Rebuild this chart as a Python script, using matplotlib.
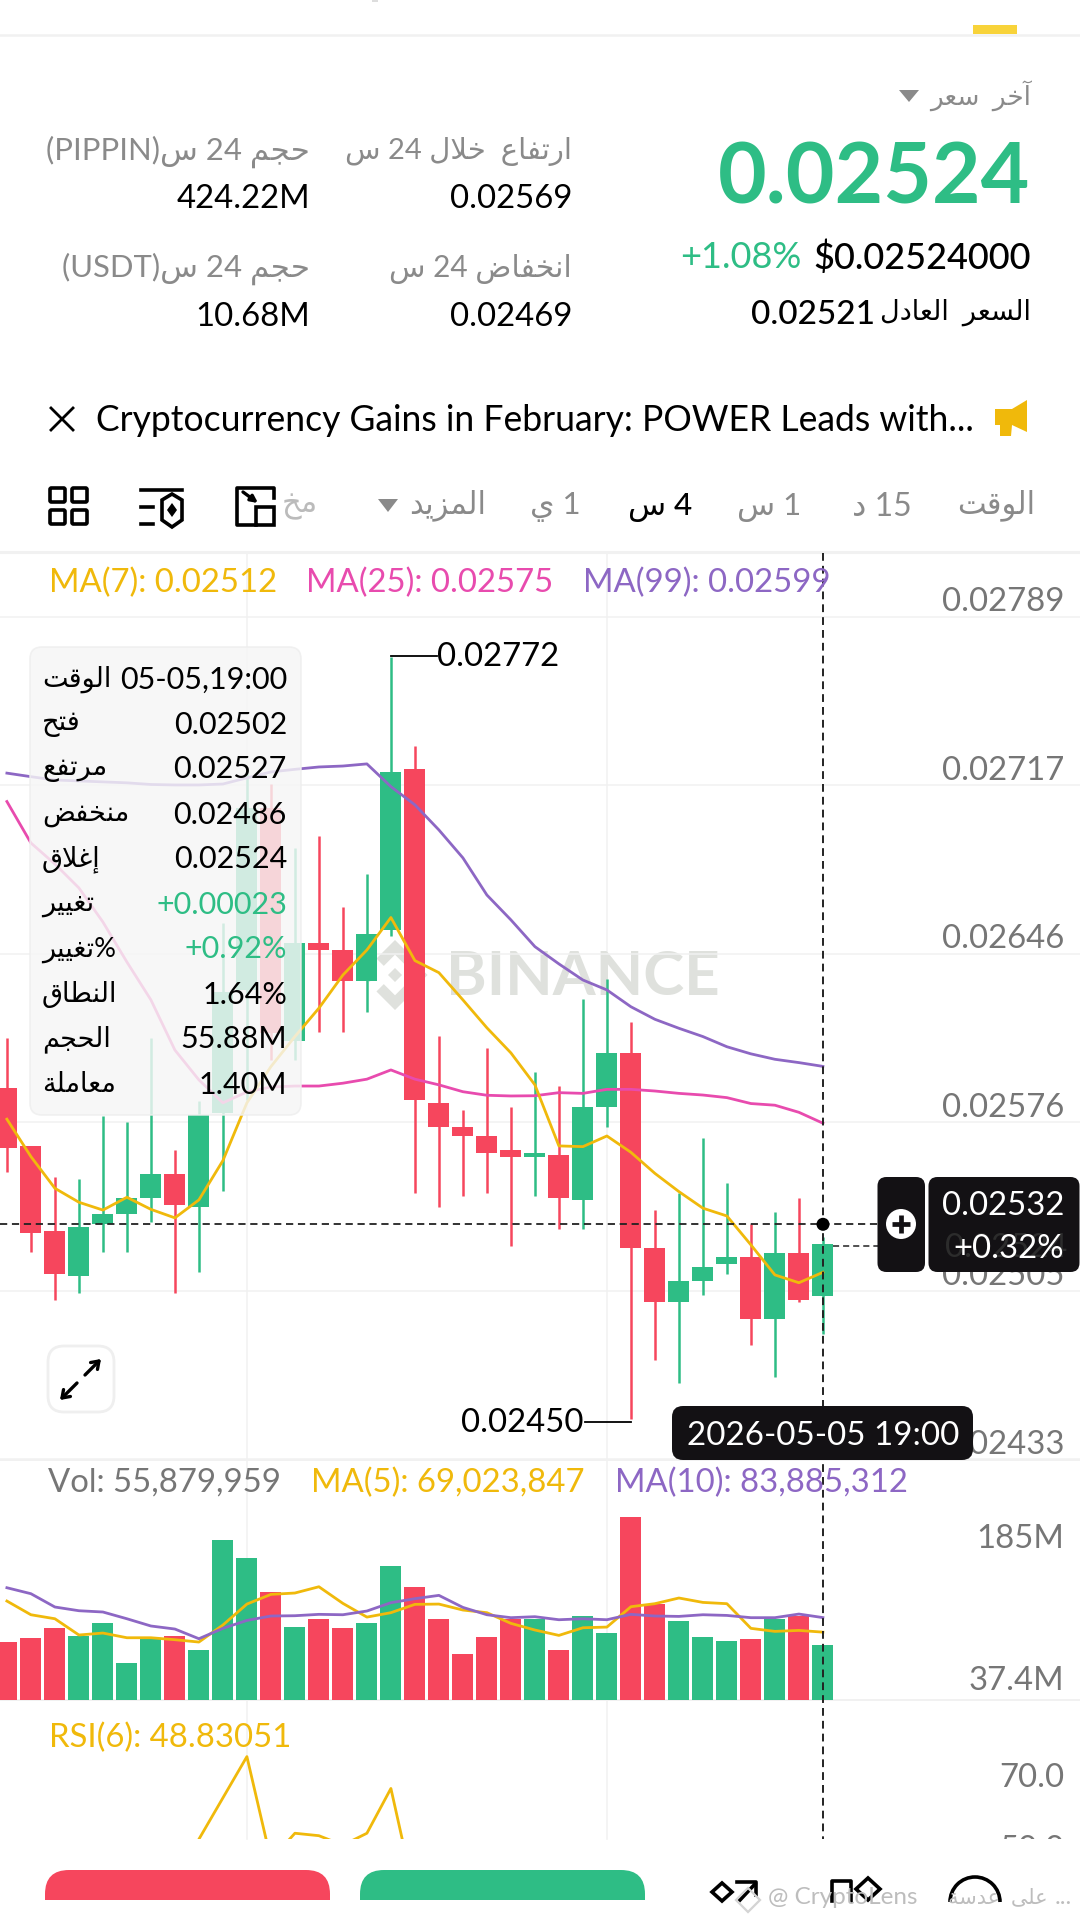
import re
import numpy as np
import matplotlib
matplotlib.use('Agg')
import matplotlib.pyplot as plt
from matplotlib.patches import FancyBboxPatch, Polygon, Rectangle, Circle, Arc

plt.rcParams['font.family'] = ['Lato', 'DejaVu Sans']

W, H = 1080, 1922
GREEN, RED = '#2EBD85', '#F6465D'
YELLOW, PINK, PURPLE = '#F0B90B', '#E84BAE', '#8D67C4'
GRID = '#F1F1F1'
AXTXT = '#767676'
GREYTXT = '#8A8A8A'
DARK = '#131114'
FS = 23.7

# candles, in units of 1e-5
opens = [2589.8, 2565.5, 2529.5, 2510.3, 2532.4, 2536.5, 2543.5, 2553.5, 2539.6, 2579.3, 2631.3, 2708.3,
         2609.9, 2651.2, 2648.2, 2635.1, 2656.6, 2724.6, 2583.7, 2573.5, 2569.6, 2563.7, 2560.7, 2561.6,
         2542.6, 2581.7, 2604.8, 2522.4, 2499.4, 2508.3, 2515.4, 2518.4, 2492.3, 2520.3, 2502.0]
closes = [2564.7, 2528.6, 2511.4, 2531.3, 2536.5, 2543.4, 2553.5, 2540.4, 2578.5, 2630.6, 2708.3, 2613.1,
          2651.0, 2648.2, 2635.1, 2655.0, 2723.5, 2584.8, 2573.5, 2569.6, 2562.5, 2560.7, 2562.5, 2543.5,
          2581.9, 2604.8, 2522.4, 2499.4, 2508.3, 2514.4, 2518.4, 2492.3, 2520.3, 2500.3, 2524.0]
highs = [2611.0, 2565.5, 2552.4, 2551.4, 2578.0, 2575.5, 2611.0, 2563.7, 2584.5, 2659.6, 2723.0, 2718.3,
         2691.3, 2696.4, 2666.4, 2680.3, 2772.0, 2734.5, 2611.9, 2580.6, 2606.8, 2581.9, 2596.8, 2590.7,
         2627.5, 2635.9, 2617.8, 2538.3, 2545.5, 2568.8, 2549.7, 2532.4, 2537.5, 2543.4, 2527.0]
lows = [2554.5, 2520.6, 2500.3, 2503.4, 2520.6, 2520.6, 2533.4, 2503.4, 2512.3, 2546.5, 2584.8, 2601.7,
        2601.7, 2613.7, 2613.7, 2622.0, 2654.1, 2545.5, 2539.6, 2544.4, 2545.5, 2523.3, 2544.4, 2530.3,
        2530.3, 2573.5, 2450.0, 2474.9, 2465.2, 2502.4, 2511.3, 2481.3, 2467.9, 2499.5, 2486.0]
ma7 = [2576.7, 2560.9, 2547.5, 2541.6, 2538.3, 2543.7, 2538.6, 2535.0, 2542.6, 2559.2, 2583.6, 2598.9,
       2611.6, 2623.6, 2637.6, 2648.2, 2661.9, 2643.7, 2638.6, 2627.1, 2615.3, 2604.7, 2591.2, 2565.4,
       2565.1, 2569.6, 2562.7, 2553.8, 2546.1, 2539.1, 2535.8, 2523.6, 2510.9, 2507.6, 2512.0]
ma25 = [2710.9, 2693.4, 2684.5, 2674.4, 2660.0, 2643.1, 2627.1, 2605.9, 2593.3, 2583.6, 2588.2, 2590.3,
        2590.7, 2590.7, 2591.9, 2593.6, 2597.5, 2593.6, 2591.2, 2588.3, 2586.8, 2586.5, 2586.6, 2587.9,
        2587.6, 2589.3, 2589.3, 2588.6, 2587.6, 2586.9, 2585.8, 2583.3, 2582.6, 2579.6, 2575.0]
ma99 = [2722.9, 2721.4, 2720.0, 2719.6, 2719.2, 2718.8, 2718.1, 2717.9, 2717.9, 2718.3, 2720.9, 2723.4,
        2724.5, 2725.5, 2725.9, 2726.8, 2717.2, 2709.5, 2698.9, 2687.1, 2671.4, 2660.9, 2649.6, 2642.3,
        2635.5, 2631.3, 2624.2, 2618.9, 2615.1, 2611.6, 2607.3, 2604.3, 2602.0, 2600.6, 2599.0]
price_ticks = [2789.0, 2717.8, 2646.6, 2575.4, 2504.2, 2433.0]
price_labels = ['0.02789', '0.02717', '0.02646', '0.02576', '0.02505', '0.02433']

# volume, millions
volume = [58.9, 62.7, 73.2, 65.0, 78.7, 37.5, 62.0, 65.0, 51.1, 163.4, 144.7, 110.3, 74.2, 82.7, 73.5, 78.7,
          136.9, 115.1, 82.7, 46.6, 63.7, 82.7, 82.7, 50.7, 85.1, 67.8, 186.9, 97.7, 80.0, 64.0, 59.6, 62.0,
          82.7, 85.8, 55.88]
vol_ma5 = [100.8, 86.8, 82.7, 66.1, 68.1, 63.3, 63.3, 61.3, 58.9, 76.3, 97.7, 107.6, 109.0, 115.4, 98.4, 84.4,
           88.9, 97.4, 97.7, 91.6, 88.9, 78.0, 71.2, 65.7, 73.5, 74.2, 95.0, 98.1, 103.9, 99.4, 98.1, 72.9,
           69.8, 70.8, 69.02]
vol_ma10 = [114.4, 108.3, 94.7, 90.9, 89.6, 82.7, 75.3, 72.2, 62.3, 72.9, 81.0, 85.5, 85.8, 87.2, 86.8, 90.6,
            99.1, 103.2, 106.6, 94.3, 86.8, 83.8, 84.8, 81.7, 82.7, 81.7, 87.2, 85.5, 85.1, 86.8, 86.1, 83.8,
            83.8, 87.5, 83.89]

# only the tops of this one show, the rest is estimated below the panel edge
rsi6 = [40.0, 38.0, 36.0, 42.0, 44.0, 45.0, 47.0, 44.0, 56.8, 68.6, 80.4, 50.9, 58.5, 57.8, 55.1, 58.5, 71.3,
        40.6, 38.0, 36.0, 34.0, 33.0, 34.0, 32.0, 42.0, 45.0, 25.0, 24.0, 30.0, 32.0, 34.0, 32.0, 40.0, 38.0,
        48.83]

n = len(opens)
x = np.arange(n)
opens, closes, highs, lows = [np.array(a) / 1e5 for a in (opens, closes, highs, lows)]
up = closes >= opens
colors = [GREEN if u else RED for u in up]

# Arabic has to be shaped by hand, matplotlib does not do it
FORMS = {'ا': (0xFE8D, 0xFE8E), 'آ': (0xFE81, 0xFE82), 'إ': (0xFE87, 0xFE88), 'ب': (0xFE8F, 0xFE90, 0xFE91, 0xFE92),
         'ة': (0xFE93, 0xFE94), 'ت': (0xFE95, 0xFE96, 0xFE97, 0xFE98), 'ج': (0xFE9D, 0xFE9E, 0xFE9F, 0xFEA0),
         'ح': (0xFEA1, 0xFEA2, 0xFEA3, 0xFEA4), 'خ': (0xFEA5, 0xFEA6, 0xFEA7, 0xFEA8), 'د': (0xFEA9, 0xFEAA),
         'ر': (0xFEAD, 0xFEAE), 'ز': (0xFEAF, 0xFEB0), 'س': (0xFEB1, 0xFEB2, 0xFEB3, 0xFEB4),
         'ض': (0xFEBD, 0xFEBE, 0xFEBF, 0xFEC0), 'ط': (0xFEC1, 0xFEC2, 0xFEC3, 0xFEC4),
         'ع': (0xFEC9, 0xFECA, 0xFECB, 0xFECC), 'غ': (0xFECD, 0xFECE, 0xFECF, 0xFED0),
         'ف': (0xFED1, 0xFED2, 0xFED3, 0xFED4), 'ق': (0xFED5, 0xFED6, 0xFED7, 0xFED8),
         'ل': (0xFEDD, 0xFEDE, 0xFEDF, 0xFEE0), 'م': (0xFEE1, 0xFEE2, 0xFEE3, 0xFEE4),
         'ن': (0xFEE5, 0xFEE6, 0xFEE7, 0xFEE8), 'و': (0xFEED, 0xFEEE), 'ى': (0xFEEF, 0xFEF0),
         'ي': (0xFEF1, 0xFEF2, 0xFEF3, 0xFEF4)}
LAM_ALEF = {'ا': (0xFEFB, 0xFEFC), 'آ': (0xFEF5, 0xFEF6), 'إ': (0xFEF9, 0xFEFA)}


def shape(word):
    out = []
    i = 0
    while i < len(word):
        c = word[i]
        prev_joins = i > 0 and len(FORMS[word[i - 1]]) == 4
        if c == 'ل' and i + 1 < len(word) and word[i + 1] in LAM_ALEF:
            out.append(chr(LAM_ALEF[word[i + 1]][1 if prev_joins else 0]))
            i += 2
            continue
        f = FORMS[c]
        next_joins = i + 1 < len(word)
        if len(f) == 4:
            k = (2 if not prev_joins else 3) if next_joins else (1 if prev_joins else 0)
        else:
            k = 1 if prev_joins else 0
        out.append(chr(f[k]))
        i += 1
    return ''.join(reversed(out))


def ar(s):
    parts = re.findall(r'[\u0600-\u06FF]+|[^\u0600-\u06FF]+', s)
    vis = []
    for p in reversed(parts):
        if re.match(r'[\u0600-\u06FF]', p):
            vis.append(shape(p))
        else:
            lead = len(p) - len(p.lstrip())
            trail = len(p) - len(p.rstrip())
            vis.append(' ' * trail + p.strip() + ' ' * lead)
    return ''.join(vis)


fig = plt.figure(figsize=(W / 100, H / 100), dpi=100, facecolor='white')


def panel(top, bottom, z):
    a = fig.add_axes([0, 1 - bottom / H, 1, (bottom - top) / H], zorder=z)
    a.patch.set_alpha(0)
    a.set_xlim(-6.9 / 24.0, (W - 6.9) / 24.0)
    a.axis('off')
    return a


back = fig.add_axes([0, 0, 1, 1], zorder=0)
back.set_xlim(0, W)
back.set_ylim(H, 0)
back.axis('off')

ui = fig.add_axes([0, 0, 1, 1], zorder=6)
ui.patch.set_alpha(0)
ui.set_xlim(0, W)
ui.set_ylim(H, 0)
ui.axis('off')

# grid + watermark
for gx in (246.9, 606.8):
    back.plot([gx, gx], [553, 1839], color=GRID, lw=1.1)
for gy, lw in ((35, 1.8), (552, 2.2), (1460, 1.4), (1699.7, 1.4)):
    back.plot([0, W], [gy, gy], color=GRID, lw=lw)
WM = '#DFE1DD'
cx, cy, R = 395, 975, 35
chev = np.array([(0, -1), (.53, -.47), (.32, -.26), (0, -.58), (-.32, -.26), (-.53, -.47)])
back.add_patch(Polygon(chev * R + (cx, cy), color=WM, lw=0))
back.add_patch(Polygon(chev * (1, -1) * R + (cx, cy), color=WM, lw=0))
dia = np.array([(0, -.2), (.2, 0), (0, .2), (-.2, 0)])
for off in ((0, 0), (-.73, 0), (.73, 0)):
    back.add_patch(Polygon((dia + off) * R + (cx, cy), color=WM, lw=0))
back.text(583, 977, 'BINANCE', color=WM, fontsize=44.5, fontweight='bold', ha='center', va='center')

# price panel
ax = panel(553, 1459.3, 1)
ax.set_ylim(0.02433, 0.028159)
for t in price_ticks:
    ax.axhline(t / 1e5, color=GRID, lw=1.1, zorder=0)
ax.vlines(x, lows, highs, colors=colors, lw=1.8, zorder=2)
ax.bar(x, np.abs(closes - opens), bottom=np.minimum(opens, closes), width=0.875, color=colors, lw=0, zorder=3)
ax.plot(x, np.array(ma25) / 1e5, color=PINK, lw=2.0, zorder=4)
ax.plot(x, np.array(ma99) / 1e5, color=PURPLE, lw=2.0, zorder=4)
ax.plot(x, np.array(ma7) / 1e5, color=YELLOW, lw=2.0, zorder=5)
for t, lab in zip(price_ticks, price_labels):
    ax.annotate(lab, xy=(1, t / 1e5), xycoords=('axes fraction', 'data'), xytext=(-11.5, 10.5), textcoords='offset points',
                ha='right', va='center', color=AXTXT, fontsize=FS, annotation_clip=False)

# volume panel
av = panel(1460, 1699.7, 2)
av.set_ylim(0, 244.9)
av.bar(x, volume, width=0.875, color=colors, lw=0, zorder=2)
av.plot(x, vol_ma5, color=YELLOW, lw=2.0, zorder=3)
av.plot(x, vol_ma10, color=PURPLE, lw=2.0, zorder=4)

# rsi panel, cut by the bottom bar
rsi_ax = panel(1700, 1839.3, 3)
rsi_ax.set_ylim(56.77, 96.57)
rsi_ax.plot(x, rsi6, color=YELLOW, lw=2.0)
for val, lab in ((74.4, '70.0'), (53.8, '50.0')):
    rsi_ax.text(1064 / W, val, lab, transform=rsi_ax.get_yaxis_transform(), fontsize=FS, color=AXTXT,
                ha='right', va='center', clip_on=True)


def txt(px, py, s, size=FS, color='black', ha='left', **kw):
    return ui.text(px, py + 2.5, s, fontsize=size, color=color, ha=ha, va='center', **kw)


# header
ui.add_patch(Rectangle((972.5, 25), 44.5, 9, color='#F8D33A', lw=0))
ui.add_patch(Rectangle((372, 0), 6, 2, color='#DDDDDD', lw=0))
txt(1031, 93, ar('آخر سعر'), 19, GREYTXT, 'right')
ui.add_patch(Polygon([(899, 90), (919, 90), (909, 102)], color=GREYTXT, lw=0))
txt(1030, 177, '0.02524', 60.5, GREEN, 'right', fontweight='bold')
txt(680, 255, '+1.08%', 26, GREEN)
txt(1031, 255, '$0.02524000', 26, 'black', 'right', fontweight='medium')
txt(875, 312, '0.02521', 24, 'black', 'right', fontweight='medium')
txt(1031, 310, ar('السعر العادل'), 19.5, 'black', 'right')
txt(310, 149, ar('حجم 24 س(PIPPIN)'), 22.3, GREYTXT, 'right')
txt(310, 197, '424.22M', FS, 'black', 'right')
txt(310, 266, ar('حجم 24 س(USDT)'), 22.3, GREYTXT, 'right')
txt(310, 314, '10.68M', FS, 'black', 'right')
txt(572, 149, ar('ارتفاع خلال 24 س'), 21, GREYTXT, 'right')
txt(572, 197, '0.02569', FS, 'black', 'right')
txt(572, 266, ar('انخفاض 24 س'), 21.5, GREYTXT, 'right')
txt(572, 314, '0.02469', FS, 'black', 'right')

# news strip
ui.plot([51, 73], [408, 430], color='black', lw=2)
ui.plot([51, 73], [430, 408], color='black', lw=2)
txt(96, 418, 'Cryptocurrency Gains in February: POWER Leads with...', 25.6)
ui.add_patch(Polygon([(995, 409), (1012, 409), (1027, 400), (1027, 432), (1012, 425), (1011, 436), (1000, 436), (1000, 425), (995, 425)],
                     color=YELLOW, lw=0))

# interval tabs
txt(1035, 503, ar('الوقت'), 22, GREYTXT, 'right')
txt(912, 505, ar('15 د'), 23, GREYTXT, 'right')
txt(801, 505, ar('1 س'), 22.5, GREYTXT, 'right')
txt(692, 505, ar('4 س'), 22.5, 'black', 'right', fontweight='medium')
txt(581, 505, ar('1 ي'), 22.5, GREYTXT, 'right')
txt(486, 503, ar('المزيد'), 22, GREYTXT, 'right')
ui.add_patch(Polygon([(378, 499), (398, 499), (388, 512)], color=GREYTXT, lw=0))
txt(318, 503, ar('مخ'), 22, '#BBBBBB', 'right')
# tool icons
for bx, by in ((50, 488), (72, 488), (50, 510), (72, 510)):
    ui.add_patch(FancyBboxPatch((bx, by), 15, 14, boxstyle='round,pad=0,rounding_size=1.5', fc='none', ec='black', lw=2.6))
ui.plot([141, 182], [490, 490], color='black', lw=2.6)
ui.plot([141, 153], [507, 507], color='black', lw=2.6)
ui.plot([141, 153], [524, 524], color='black', lw=2.6)
ui.add_patch(Polygon([(162, 500), (172, 494), (182, 500), (182, 520), (172, 527), (162, 520)], fc='none', ec='black', lw=2.6))
ui.add_patch(Polygon([(172, 503), (177, 510), (172, 517), (167, 510)], color='black', lw=0))
ui.plot([256, 237, 237, 274, 274], [525, 525, 488, 488, 498], color='black', lw=2.6)
ui.add_patch(Rectangle((256, 507), 18, 18, fc='none', ec='black', lw=2.6))
ui.annotate('', xy=(258, 503), xytext=(243, 492), arrowprops=dict(arrowstyle='-|>', color='black', lw=2.4, shrinkA=0, shrinkB=0))

# legends
txt(49, 580, 'MA(7): 0.02512', FS, YELLOW)
txt(306, 580, 'MA(25): 0.02575', FS, PINK)
txt(583, 580, 'MA(99): 0.02599', FS, PURPLE)
txt(48, 1480, 'Vol: 55,879,959', FS, AXTXT)
txt(311, 1480, 'MA(5): 69,023,847', FS, YELLOW)
txt(615, 1480, 'MA(10): 83,885,312', FS, PURPLE)
txt(49, 1735, 'RSI(6): 48.83051', FS, YELLOW)
txt(1064, 1537, '185M', FS, AXTXT, 'right')
txt(1064, 1678, '37.4M', FS, AXTXT, 'right')

# tooltip
ui.add_patch(FancyBboxPatch((30, 647), 271, 468, boxstyle='round,pad=0,rounding_size=12', fc='#F6F6F6', ec='#EEEEEE', lw=1.2, alpha=0.82))
tip_names = ['الوقت', 'فتح', 'مرتفع', 'منخفض', 'إغلاق', 'تغيير', '%تغيير', 'النطاق', 'الحجم', 'معاملة']
tip_values = ['05-05,19:00', '0.02502', '0.02527', '0.02486', '0.02524', '+0.00023', '+0.92%', '1.64%', '55.88M', '1.40M']
for i, (nm, val) in enumerate(zip(tip_names, tip_values)):
    yy = 677 + 45 * i
    txt(42, yy, ar(nm), 19.5, 'black')
    txt(287, yy, val, 22, GREEN if val.startswith('+') else 'black', 'right')

# high / low marks
ui.plot([391, 437], [655.7, 655.7], color='black', lw=1.3)
txt(437, 654, '0.02772', FS)
ui.plot([585, 631], [1421.7, 1421.7], color='black', lw=1.3)
txt(584, 1421, '0.02450', FS, 'black', 'right')

# expand button
ui.add_patch(FancyBboxPatch((48, 1346), 66, 66, boxstyle='round,pad=0,rounding_size=16', fc='white', ec='#EFEFEF', lw=2))
for p0, p1 in (((85, 1375), (101, 1359)), ((77, 1383), (60, 1400))):
    ui.annotate('', xy=p1, xytext=p0, arrowprops=dict(arrowstyle='->,head_width=0.35,head_length=0.5', color='black', lw=2.4, shrinkA=0, shrinkB=0))

# crosshair
DASH = (0, (4, 2.6))
ui.plot([823, 823], [553, 1839], color='#222222', lw=1.4, ls=DASH, zorder=2)
ui.plot([0, 900], [1224.3, 1224.3], color='#222222', lw=1.3, ls=DASH, zorder=2)
ui.plot([833, 878], [1245.7, 1245.7], color='#222222', lw=1.1, ls=DASH, zorder=2)
ui.add_patch(Circle((823, 1224.3), 6.5, color='black', lw=0, zorder=4))

# right side tags
ui.add_patch(FancyBboxPatch((877.5, 1177), 47.5, 95, boxstyle='round,pad=0,rounding_size=9', fc=DARK, ec='none', zorder=4))
ui.add_patch(FancyBboxPatch((928.5, 1177), 151, 95, boxstyle='round,pad=0,rounding_size=9', fc=DARK, ec='none', zorder=4))
ui.add_patch(Circle((901, 1224), 15, color='white', lw=0, zorder=5))
ui.plot([892, 910], [1224, 1224], color=DARK, lw=3.4, zorder=6, solid_capstyle='butt')
ui.plot([901, 901], [1215, 1233], color=DARK, lw=3.4, zorder=6, solid_capstyle='butt')
ui.text(945, 1248, '0.02524', fontsize=FS, color='#2C2C2C', va='center', zorder=5)
ui.text(1064, 1206, '0.02532', fontsize=FS, color='white', ha='right', va='center', zorder=6)
ui.text(1064, 1249, '+0.32%', fontsize=FS, color='white', ha='right', va='center', zorder=6)

# date tag
ui.add_patch(FancyBboxPatch((672, 1406), 301, 54, boxstyle='round,pad=0,rounding_size=11', fc=DARK, ec='none', zorder=4))
ui.text(823, 1436, '2026-05-05 19:00', fontsize=FS + 0.2, color='white', ha='center', va='center', zorder=6)

# bottom bar
for bx0, bx1, col in ((45, 330, RED), (360, 645, GREEN)):
    ui.add_patch(FancyBboxPatch((bx0, 1870), bx1 - bx0, 70, boxstyle='round,pad=0,rounding_size=24', fc=col, ec='none', zorder=2))
ui.add_patch(Rectangle((0, 1900), 670, 22, color='white', lw=0, zorder=3))
ui.add_patch(Polygon([(712, 1892), (722, 1883), (732, 1892), (722, 1901)], fc='none', ec='black', lw=2.6))
ui.plot([737, 756, 756], [1882, 1882, 1895], color='black', lw=2.6)
ui.plot([740, 755], [1900, 1884], color='black', lw=2.6)
ui.plot([832, 832, 851, 851], [1901, 1881, 1881, 1901], color='black', lw=2.6)
ui.add_patch(Polygon([(856, 1889), (868, 1878), (880, 1889), (868, 1900)], fc='none', ec='black', lw=2.6))
ui.add_patch(Arc((975, 1902), 50, 50, theta1=180, theta2=360, color='black', lw=2.6))
ui.add_patch(Polygon([(748, 1888), (760, 1900), (748, 1912), (736, 1900)], fc='none', ec='#D4D4D4', lw=1.6, zorder=4))
ui.text(768, 1897, '@ CryptoLens', fontsize=17.5, color='#BDBDBD', va='center', zorder=4)
ui.text(1048, 1897, ar('على عدسة'), fontsize=15, color='#BDBDBD', ha='right', va='center', zorder=4)
ui.text(1072, 1897, '...', fontsize=17.5, color='#BDBDBD', ha='right', va='center', zorder=4)

fig.savefig('out.png', dpi=100)
